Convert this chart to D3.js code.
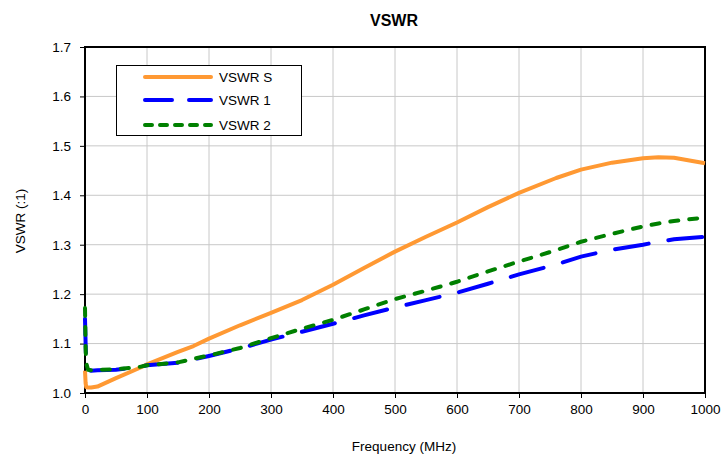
<!DOCTYPE html>
<html>
<head>
<meta charset="utf-8">
<script src="https://cdn.jsdelivr.net/npm/d3@7"></script>
<style>
  body { margin: 0; background: #fff; }
  text { font-family: "Liberation Sans", Arial, sans-serif; fill: #000; }
</style>
</head>
<body>
<script>
// data
var freq  = [0, 1, 2, 5, 10, 20, 50, 85, 100, 150, 175, 200, 250, 300, 350, 400, 450, 500, 550, 600, 650, 700, 760, 800, 850, 900, 925, 950, 1000];
var vswrS = [1.045, 1.02, 1.012, 1.011, 1.011, 1.013, 1.03, 1.049, 1.058, 1.083, 1.095, 1.11, 1.137, 1.162, 1.188, 1.219, 1.253, 1.286, 1.316, 1.345, 1.376, 1.405, 1.435, 1.452, 1.466, 1.475, 1.477, 1.476, 1.465];
var vswr1 = [1.15, 1.10, 1.055, 1.046, 1.045, 1.046, 1.047, 1.052, 1.056, 1.061, 1.068, 1.075, 1.09, 1.108, 1.124, 1.14, 1.157, 1.173, 1.188, 1.203, 1.221, 1.24, 1.26, 1.276, 1.29, 1.300, 1.306, 1.311, 1.316];
var vswr2 = [1.172, 1.09, 1.06, 1.047, 1.046, 1.047, 1.048, 1.052, 1.056, 1.062, 1.069, 1.076, 1.091, 1.111, 1.13, 1.148, 1.169, 1.19, 1.207, 1.225, 1.246, 1.266, 1.289, 1.306, 1.322, 1.337, 1.343, 1.348, 1.355];
var seriesNames = ['VSWR S', 'VSWR 1', 'VSWR 2'];
var xTicks = [0, 100, 200, 300, 400, 500, 600, 700, 800, 900, 1000];
var yTicks = [1.0, 1.1, 1.2, 1.3, 1.4, 1.5, 1.6, 1.7];

var svg = d3.select('body').append('svg').attr('width', 723).attr('height', 456);

var pL = 85, pR = 705, pT = 47, pB = 393;
var x = d3.scaleLinear().domain([0, 1000]).range([pL, pR]);
var y = d3.scaleLinear().domain([1.0, 1.7]).range([pB, pT]);

// grid
svg.append('g').selectAll('line').data(xTicks.slice(1, -1)).join('line')
  .attr('x1', d => x(d)).attr('x2', d => x(d)).attr('y1', pT).attr('y2', pB)
  .attr('stroke', '#c8c8c8').attr('stroke-width', 1);
svg.append('g').selectAll('line').data(yTicks.slice(1, -1)).join('line')
  .attr('y1', d => y(d)).attr('y2', d => y(d)).attr('x1', pL).attr('x2', pR)
  .attr('stroke', '#c8c8c8').attr('stroke-width', 1);

// axes
var xAxis = svg.append('g').attr('transform', 'translate(0,' + pB + ')')
  .call(d3.axisBottom(x).tickValues(xTicks).tickFormat(d3.format('d')).tickSize(5).tickPadding(6));
var yAxis = svg.append('g').attr('transform', 'translate(' + pL + ',0)')
  .call(d3.axisLeft(y).tickValues(yTicks).tickFormat(d3.format('.1f')).tickSize(5).tickPadding(9));
[xAxis, yAxis].forEach(function (a) {
  a.select('.domain').remove();
  a.selectAll('line').attr('stroke', '#000').attr('stroke-width', 1);
  a.selectAll('text').style('font-size', '13.5px').style('font-family', '"Liberation Sans", Arial, sans-serif');
});

// plot frame (series sit on top of it)
svg.append('rect').attr('x', pL).attr('y', pT).attr('width', pR - pL).attr('height', pB - pT)
  .attr('fill', 'none').attr('stroke', '#000').attr('stroke-width', 2);

// lines
var line = d3.line().x((d, i) => x(freq[i])).y(d => y(d));
var lines = svg.append('g');
lines.append('path').datum(vswrS).attr('d', line).attr('fill', 'none')
  .attr('stroke', '#ff9933').attr('stroke-width', 4).attr('stroke-linejoin', 'round');
lines.append('path').datum(vswr1).attr('d', line).attr('fill', 'none')
  .attr('stroke', '#0000ff').attr('stroke-width', 4).attr('stroke-linecap', 'round')
  .attr('stroke-dasharray', '34,20');
lines.append('path').datum(vswr2).attr('d', line).attr('fill', 'none')
  .attr('stroke', '#008000').attr('stroke-width', 4).attr('stroke-linecap', 'round')
  .attr('stroke-dasharray', '8,11');

// legend
var legend = svg.append('g');
legend.append('rect').attr('x', 116.5).attr('y', 65.5).attr('width', 185).attr('height', 70)
  .attr('fill', '#fff').attr('stroke', '#000').attr('stroke-width', 1);
var legColors = ['#ff9933', '#0000ff', '#008000'];
var legDash = [null, '27,17', '7,8'];
var legY = [77, 100, 125];
seriesNames.forEach(function (name, i) {
  legend.append('line').attr('x1', 145).attr('x2', 211).attr('y1', legY[i]).attr('y2', legY[i])
    .attr('stroke', legColors[i]).attr('stroke-width', 4).attr('stroke-linecap', 'round')
    .attr('stroke-dasharray', legDash[i]);
  legend.append('text').attr('x', 219).attr('y', legY[i] + 5).style('font-size', '13.5px').text(name);
});

// titles
svg.append('text').attr('x', 394).attr('y', 26).attr('text-anchor', 'middle')
  .style('font-size', '16px').style('font-weight', 'bold').text('VSWR');
svg.append('text').attr('x', 404).attr('y', 451).attr('text-anchor', 'middle')
  .style('font-size', '13.5px').text('Frequency (MHz)');
svg.append('text').attr('transform', 'translate(25,221) rotate(-90)').attr('text-anchor', 'middle')
  .style('font-size', '13.5px').text('VSWR (:1)');
</script>
</body>
</html>
